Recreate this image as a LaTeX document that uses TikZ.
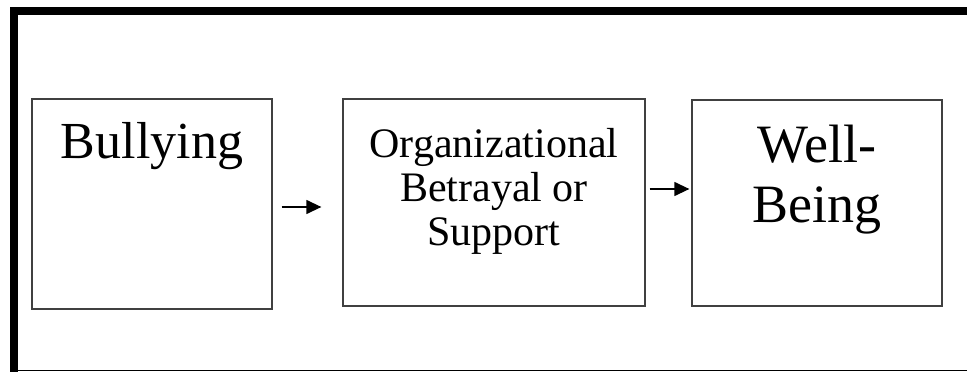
\documentclass[tikz,border=0pt]{standalone}
\usepackage{fontspec}
\setmainfont{Liberation Serif}
\usetikzlibrary{arrows.meta}
\tikzset{
  box/.style={draw=black!75, line width=1.3pt, inner sep=0pt},
  lbl/.style={anchor=base, align=center, inner sep=0pt},
  arr/.style={line width=1.3pt, -{Triangle[length=15pt,width=14pt]}}
}
\begin{document}
\begin{tikzpicture}[x=1pt,y=-1pt]
\useasboundingbox (0,0) rectangle (967,372);
% frame
\fill[black] (10,7) rectangle (18,372);
\fill[black] (10,7) rectangle (967,15);
\draw[line width=1.5pt] (10,370.5) -- (967,370.5);
% boxes
\node[box, minimum width=240pt, minimum height=210pt] (bully) at (152,204) {};
\node[box, minimum width=302pt, minimum height=207pt] (betray) at (494,202.5) {};
\node[box, minimum width=250pt, minimum height=206pt] (well) at (817,203) {};
% texts (base = last line)
\node[lbl, font=\fontsize{52}{58}\selectfont] (bullytxt) at (152,158) {Bullying};
\node[lbl, font=\fontsize{42}{44}\selectfont] (betraytxt) at (494,245) {Organizational\\Betrayal or\\Support};
\node[lbl, font=\fontsize{54}{60}\selectfont] (welltxt) at (817,222) {Well-\\Being};
% arrows
\draw[arr] ([shift={(9,3)}]bully.east) -- ([shift={(-21,4.5)}]betray.west);
\draw[arr] ([shift={(4,-13.5)}]betray.east) -- ([shift={(-2,-14)}]well.west);
\end{tikzpicture}
\end{document}
